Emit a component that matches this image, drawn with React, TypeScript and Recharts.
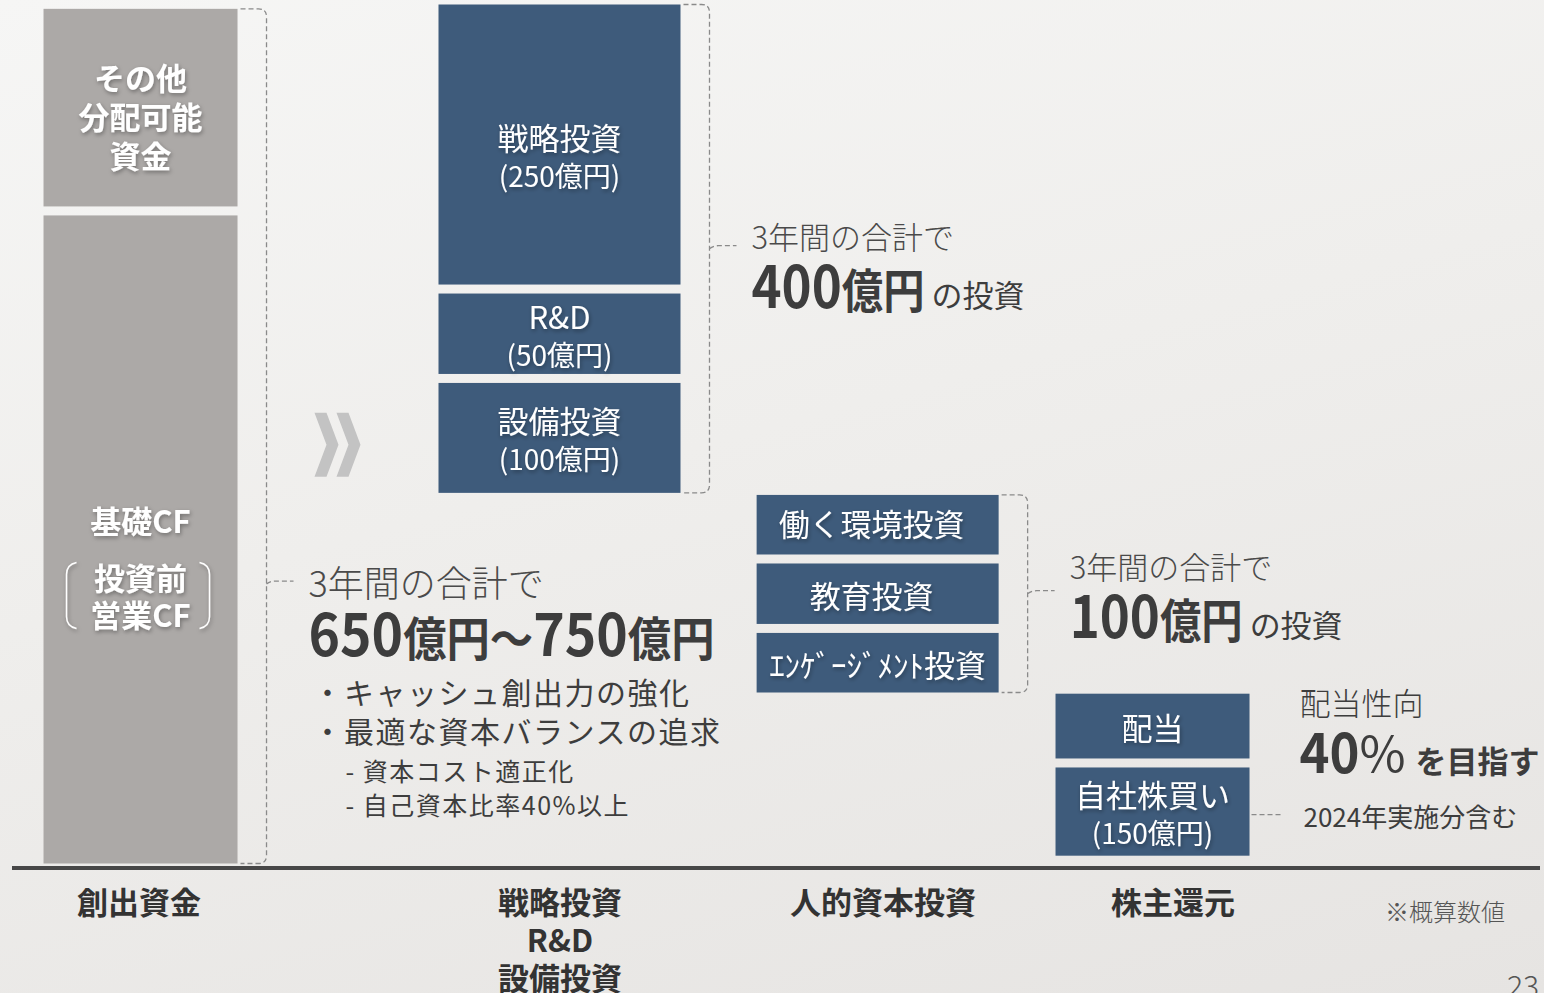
import React from "react";
import { BarChart, Bar, XAxis, YAxis } from "recharts";

// categories along the baseline (multi-line label uses \n)
const categories = ["創出資金", "戦略投資\nR&D\n設備投資", "人的資本投資", "株主還元"];

// relative heights (full column = 100)
const lift = [0, 42.7, 19.7, 0.9]; // invisible lift under floating stacks
const tier1 = [75.7, 13.7, 7.9, 11.2];
const tier2 = [23.8, 10.3, 8.0, 8.5];
const tier3 = [0, 33.3, 7.9, 0];

const tier1Labels = [["基礎CF"], ["設備投資", "(100億円)"], ["ｴﾝｹﾞｰｼﾞﾒﾝﾄ投資"], ["自社株買い", "(150億円)"]];
const tier2Labels = [["その他", "分配可能", "資金"], ["R&D", "(50億円)"], ["教育投資"], ["配当"]];
const tier3Labels = [[], ["戦略投資", "(250億円)"], ["働く環境投資"], []];
const preInvestLabel = ["投資前", "営業CF"];

const leadText = "3年間の合計で";
const totals = ["650億円～750億円", "400億円", "100億円"];
const totalSuffix = ["", "の投資", "の投資"];
const bullets = ["・キャッシュ創出力の強化", "・最適な資本バランスの追求"];
const subBullets = ["- 資本コスト適正化", "- 自己資本比率40%以上"];
const payoutTitle = "配当性向";
const payoutTarget = "40";
const payoutSuffix = "を目指す";
const buybackNote = "2024年実施分含む";
const footnote = "※概算数値";
const pageNumber = "23";

// layout only
const slotPos = [8.44, 35.86, 56.68, 74.67];
const slotWidth = [194, 242, 242, 194];
const tickShift = [-2, 0, 5, 20];
const totalWidth = [406, 173, 173];
const GAP = 9;
const NAVY = "#3e5b7b";
const GRAY = "#aca9a7";
const INK = "#3d3d3d";
const FONT = "'Noto Sans CJK JP', 'Noto Sans', sans-serif";

const rows = categories.map((category, i) => ({
  category,
  pos: slotPos[i],
  lift: lift[i],
  t1: tier1[i],
  t2: tier2[i],
  t3: tier3[i],
}));

const labelSets = [tier1Labels, tier2Labels, tier3Labels];

function mixed(text: string, big: number, small: number) {
  return text
    .split(/(\d+)/)
    .filter(Boolean)
    .map((s, k) => (
      <tspan key={k} fontSize={/\d/.test(s) ? big : small}>
        {s}
      </tspan>
    ));
}

function BarText({ cx, cy, lines, bold }: any) {
  const lh = bold ? 39 : 38;
  return (
    <g filter="url(#txtShadow)">
      {lines.map((t: string, j: number) => {
        const f = t.startsWith("(") ? 28 : 31;
        const by = cy + (j - (lines.length - 1) / 2) * lh + 0.36 * f;
        return (
          <text key={j} x={cx} y={by} textAnchor="middle" fill="#fff" fontSize={f} fontWeight={bold ? 700 : 400} fontFamily={FONT}>
            {t}
          </text>
        );
      })}
    </g>
  );
}

function Bracket({ right, top, bottom, tickY }: any) {
  const vx = right + 29;
  const r = 8;
  const d = `M${right + 3},${top} L${vx - r},${top} Q${vx},${top} ${vx},${top + r} L${vx},${bottom - r} Q${vx},${bottom} ${vx - r},${bottom} L${right + 3},${bottom} M${vx},${tickY} Q${vx + 4},${tickY - 3} ${vx + 9},${tickY - 3} L${vx + 27},${tickY - 3}`;
  return <path d={d} fill="none" stroke="#8a8a8a" strokeWidth={1.3} strokeDasharray="5 3" />;
}

function Annotation({ i, cx, w, top, bottom, seg1Top }: any) {
  const right = cx + w / 2;
  if (i === 3) {
    const mid = (seg1Top + bottom) / 2;
    const tx = right + 50;
    return (
      <g fontFamily={FONT} fill={INK}>
        <line x1={right + 2} x2={right + 33} y1={mid + 3} y2={mid + 3} stroke="#8a8a8a" strokeWidth={1.3} strokeDasharray="5 3" />
        <text x={tx} y={top + 21} fontSize={31} fontWeight={300}>{payoutTitle}</text>
        <text x={tx} y={top + 79} fontWeight={700} fontSize={56} textLength={60} lengthAdjust="spacingAndGlyphs">{payoutTarget}</text>
        <text x={tx + 58} y={top + 79} fontWeight={400} fontSize={50} textLength={50} lengthAdjust="spacingAndGlyphs">％</text>
        <text x={tx + 116} y={top + 79} fontWeight={700} fontSize={31} textLength={124} lengthAdjust="spacingAndGlyphs">{payoutSuffix}</text>
        <text x={right + 54} y={mid + 15} fontSize={26}>{buybackNote}</text>
      </g>
    );
  }
  const frac = i === 0 ? 0.673 : 0.5;
  const tickY = top + (bottom - top) * frac;
  const vx = right + 29;
  const tx = vx + 42;
  const leadY = tickY + [13, 0, -15][i];
  const leadSize = i === 0 ? 36 : 31;
  return (
    <g fontFamily={FONT} fill={INK}>
      <Bracket right={right} top={top} bottom={bottom} tickY={tickY} />
      {i === 1 && (
        <g fill="#c3c3c3">
          {[0, 22].map((o) => {
            const l = cx - w / 2 - 124 + o;
            const c = bottom - 48;
            return <polygon key={o} points={`${l},${c - 32} ${l + 12},${c - 32} ${l + 24},${c} ${l + 12},${c + 32} ${l},${c + 32} ${l + 12},${c}`} />;
          })}
        </g>
      )}
      <text x={tx} y={leadY} fontSize={leadSize} fontWeight={300} fill="#4a4a4a">{leadText}</text>
      <text x={tx} y={leadY + 59} fontWeight={700} textLength={totalWidth[i]} lengthAdjust="spacingAndGlyphs">
        {mixed(totals[i], 58, 47)}
      </text>
      {totalSuffix[i] && (
        <text x={tx + totalWidth[i] + 7} y={leadY + 58} fontSize={31} fontWeight={400}>{totalSuffix[i]}</text>
      )}
      {i === 0 && (
        <g>
          {bullets.map((b, k) => (
            <text key={b} x={tx + 4} y={leadY + 107 + k * 39} fontSize={30} letterSpacing={1.5}>{b}</text>
          ))}
          {subBullets.map((b, k) => (
            <text key={b} x={tx + 37} y={leadY + 184 + k * 34} fontSize={25} letterSpacing={1.5}>{b}</text>
          ))}
        </g>
      )}
    </g>
  );
}

function Segment(props: any) {
  const { x, y, width, height, payload, tier } = props;
  const i = categories.indexOf(payload.category);
  if (!(height > 1) || i < 0) return <g />;
  const cx = x + width / 2;
  const w = slotWidth[i];
  const top = y + GAP / 2;
  const h = height - GAP;
  const c = top + h / 2;
  const lines: string[] = labelSets[tier - 1][i];
  let label: any = null;
  if (i === 0 && tier === 1) {
    const b = c - 6;
    const bt = b + 29;
    const bb = b + 95;
    label = (
      <g filter="url(#txtShadow)">
        <text x={cx} y={b} textAnchor="middle" fill="#fff" fontSize={31} fontWeight={700} fontFamily={FONT}>{lines[0]}</text>
        {preInvestLabel.map((t, k) => (
          <text key={t} x={cx} y={b + 57 + k * 37} textAnchor="middle" fill="#fff" fontSize={31} fontWeight={700} fontFamily={FONT}>{t}</text>
        ))}
        <path d={`M${cx - 64},${bt} Q${cx - 74},${bt + 2} ${cx - 74},${bt + 12} L${cx - 74},${bb - 12} Q${cx - 74},${bb - 2} ${cx - 64},${bb}`} fill="none" stroke="#fff" strokeWidth={1.5} />
        <path d={`M${cx + 59},${bt} Q${cx + 69},${bt + 2} ${cx + 69},${bt + 12} L${cx + 69},${bb - 12} Q${cx + 69},${bb - 2} ${cx + 59},${bb}`} fill="none" stroke="#fff" strokeWidth={1.5} />
      </g>
    );
  } else if (lines.length) {
    const shift = i === 0 ? 10 : tier === 3 && i === 1 ? 13 : tier === 3 ? 0 : 3;
    const dx = i === 2 && tier > 1 ? -6 : 0;
    label = <BarText cx={cx + dx} cy={c + shift} lines={lines} bold={i === 0} />;
  }
  let note: any = null;
  if (tier === 1) {
    const k = height / payload.t1;
    const bottom = y + height - GAP / 2;
    const stackTop = y + height - (payload.t1 + payload.t2 + payload.t3) * k + GAP / 2;
    note = <Annotation i={i} cx={cx} w={w} top={stackTop} bottom={bottom} seg1Top={top} />;
  }
  return (
    <g>
      <rect x={cx - w / 2} y={top} width={w} height={h} fill={i === 0 ? GRAY : NAVY} />
      {label}
      {note}
    </g>
  );
}

function CategoryTick(props: any) {
  const { x, y, payload } = props;
  let i = 0;
  slotPos.forEach((p, k) => {
    if (Math.abs(p - payload.value) < Math.abs(slotPos[i] - payload.value)) i = k;
  });
  const lines = categories[i].split("\n");
  return (
    <g>
      {lines.map((t, j) => (
        <text key={j} x={x + tickShift[i]} y={y + 46 + j * 38} textAnchor="middle" fill="#333" fontSize={31} fontWeight={700} fontFamily={FONT}>
          {t}
        </text>
      ))}
    </g>
  );
}

export default function App() {
  return (
    <div
      style={{
        position: "absolute",
        left: 0,
        top: 0,
        width: 1544,
        height: 993,
        overflow: "hidden",
        background: "linear-gradient(165deg, #f6f6f5 0%, #efeeec 45%, #e6e4e2 100%)",
      }}
    >
      <BarChart width={1544} height={993} data={rows} margin={{ top: 0, right: 4, left: 12, bottom: 0 }} barSize={194}>
        <XAxis
          type="number"
          dataKey="pos"
          domain={[0, 100]}
          ticks={slotPos}
          interval={0}
          tick={(p: any) => <CategoryTick {...p} />}
          tickLine={false}
          tickSize={0}
          tickMargin={0}
          axisLine={{ stroke: "#474747", strokeWidth: 4 }}
          height={125}
          allowDataOverflow
        />
        <YAxis hide domain={[0, 100]} width={0} allowDataOverflow />
        <Bar dataKey="lift" stackId="s" shape={() => <g />} isAnimationActive={false} />
        <Bar dataKey="t1" stackId="s" shape={(p: any) => <Segment {...p} tier={1} />} isAnimationActive={false} />
        <Bar dataKey="t2" stackId="s" shape={(p: any) => <Segment {...p} tier={2} />} isAnimationActive={false} />
        <Bar dataKey="t3" stackId="s" shape={(p: any) => <Segment {...p} tier={3} />} isAnimationActive={false} />
      </BarChart>
      <svg width={1544} height={993} style={{ position: "absolute", left: 0, top: 0, pointerEvents: "none" }}>
        <defs>
          <filter id="txtShadow" x="-20%" y="-40%" width="140%" height="180%">
            <feDropShadow dx="1" dy="2" stdDeviation="2.2" floodColor="#000" floodOpacity="0.35" />
          </filter>
        </defs>
        <text x={1385} y={921} fontSize={24} fill="#555" fontFamily={FONT} fontWeight={300}>{footnote}</text>
        <text x={1507} y={997} fontSize={30} fill="#555" fontFamily={FONT} fontWeight={300}>{pageNumber}</text>
      </svg>
    </div>
  );
}
